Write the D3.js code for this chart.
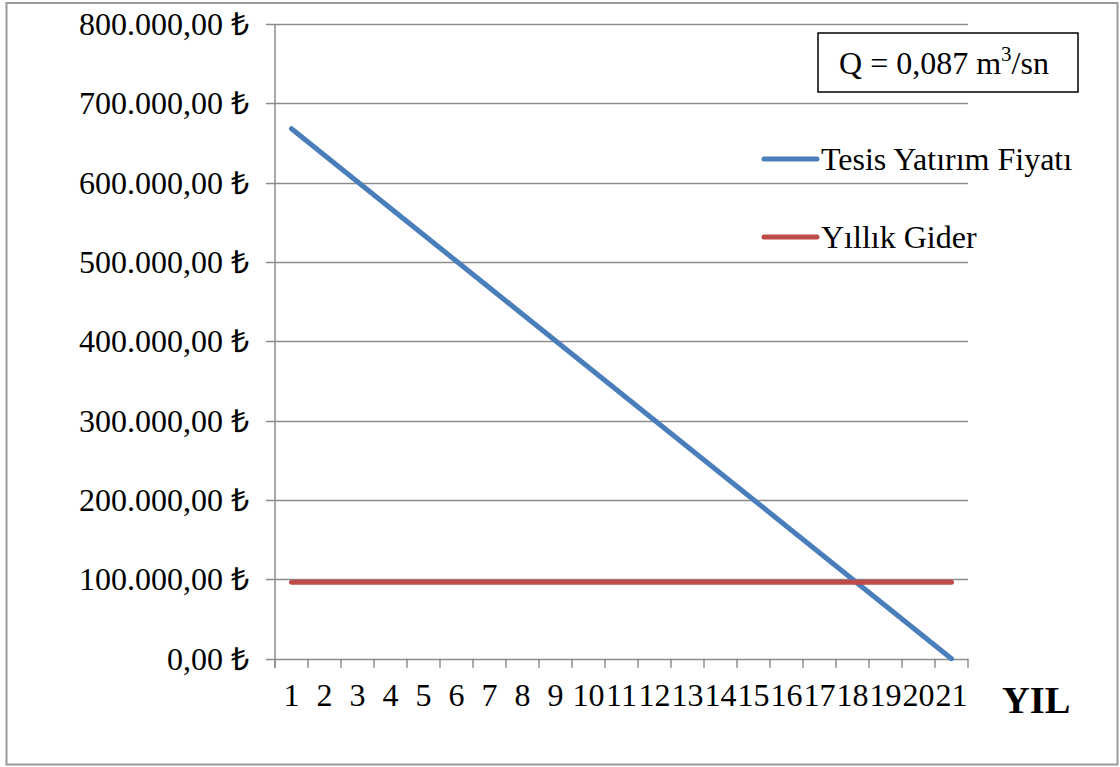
<!DOCTYPE html>
<html>
<head>
<meta charset="utf-8">
<script src="https://cdn.jsdelivr.net/npm/d3@7"></script>
<style>
  body { margin: 0; background: #fff; }
  text { font-family: "Liberation Serif", "Times New Roman", serif; fill: #000; }
</style>
</head>
<body>
<svg id="chart" width="1120" height="767"></svg>
<script>
// data
var years = ["1","2","3","4","5","6","7","8","9","10","11","12","13","14","15","16","17","18","19","20","21"];
var yatirim = [668000, 634600, 601200, 567800, 534400, 501000, 467600, 434200, 400800, 367400,
  334000, 300600, 267200, 233800, 200400, 167000, 133600, 100200, 66800, 33400, 0];
var gider = [96500, 96500, 96500, 96500, 96500, 96500, 96500, 96500, 96500, 96500,
  96500, 96500, 96500, 96500, 96500, 96500, 96500, 96500, 96500, 96500, 96500];
var yTicks = [0, 100000, 200000, 300000, 400000, 500000, 600000, 700000, 800000];
var seriesNames = ["Tesis Yatırım Fiyatı", "Yıllık Gider"];
var seriesColors = ["#4A7EBB", "#BE4B48"];

var svg = d3.select("#chart");

// outer frame
svg.append("rect")
  .attr("x", 6.5).attr("y", 3)
  .attr("width", 1111).attr("height", 761.5)
  .attr("fill", "#fff")
  .attr("stroke", "#999")
  .attr("stroke-width", 2);

var plotLeft = 275, plotRight = 968, plotTop = 24, plotBottom = 658.7;

var x = d3.scaleBand().domain(years).range([plotLeft, plotRight]);
var y = d3.scaleLinear().domain([0, 800000]).range([plotBottom, plotTop]);

function fmt(v) {
  return d3.format(",.2f")(v).replace(/,/g, "#").replace(/\./g, ",").replace(/#/g, ".") + " ₺";
}

// gridlines + y ticks
svg.append("g").selectAll("line").data(yTicks).enter().append("line")
  .attr("x1", plotLeft - 9).attr("x2", plotRight)
  .attr("y1", function(d) { return Math.round(y(d)) + 0.5; })
  .attr("y2", function(d) { return Math.round(y(d)) + 0.5; })
  .attr("stroke", "#8c8c8c").attr("stroke-width", 1.5);

svg.append("g").selectAll("text").data(yTicks).enter().append("text")
  .attr("x", 249)
  .attr("y", function(d) { return y(d) + 11; })
  .attr("text-anchor", "end")
  .style("font-size", "32px")
  .text(fmt);

// y axis line
svg.append("line")
  .attr("x1", plotLeft).attr("x2", plotLeft)
  .attr("y1", plotTop).attr("y2", plotBottom + 9)
  .attr("stroke", "#8c8c8c").attr("stroke-width", 1.5);

// x ticks at category boundaries
var bounds = years.map(function(d) { return x(d); }).concat([plotRight]);
svg.append("g").selectAll("line").data(bounds).enter().append("line")
  .attr("x1", function(d) { return d; }).attr("x2", function(d) { return d; })
  .attr("y1", plotBottom).attr("y2", plotBottom + 9)
  .attr("stroke", "#8c8c8c").attr("stroke-width", 1.5);

svg.append("g").selectAll("text").data(years).enter().append("text")
  .attr("x", function(d) { return x(d) + x.bandwidth() / 2; })
  .attr("y", 706)
  .attr("text-anchor", "middle")
  .style("font-size", "32px")
  .text(function(d) { return d; });

svg.append("text")
  .attr("x", 1002).attr("y", 713)
  .style("font-size", "38.5px").style("font-weight", "bold")
  .text("YIL");

// lines
var line = d3.line()
  .x(function(d, i) { return x(years[i]) + x.bandwidth() / 2; })
  .y(function(d) { return y(d); });

[yatirim, gider].forEach(function(s, k) {
  svg.append("path")
    .datum(s)
    .attr("d", line)
    .attr("fill", "none")
    .attr("stroke", seriesColors[k])
    .attr("stroke-width", 5)
    .attr("stroke-linecap", "round");
});

// legend
var legY = [159, 237];
seriesNames.forEach(function(n, k) {
  svg.append("line")
    .attr("x1", 764).attr("x2", 817)
    .attr("y1", legY[k]).attr("y2", legY[k])
    .attr("stroke", seriesColors[k]).attr("stroke-width", 5)
    .attr("stroke-linecap", "round");
  svg.append("text")
    .attr("x", 821).attr("y", legY[k] + 11)
    .style("font-size", "32px")
    .text(n);
});

// Q box
svg.append("rect")
  .attr("x", 818).attr("y", 33)
  .attr("width", 260).attr("height", 59)
  .attr("fill", "#fff").attr("stroke", "#000").attr("stroke-width", 1.5);

var q = svg.append("text")
  .attr("x", 944).attr("y", 74)
  .attr("text-anchor", "middle")
  .style("font-size", "32px");
q.append("tspan").text("Q = 0,087 m");
q.append("tspan").attr("dy", -13).style("font-size", "21px").text("3");
q.append("tspan").attr("dy", 13).text("/sn");
</script>
</body>
</html>
